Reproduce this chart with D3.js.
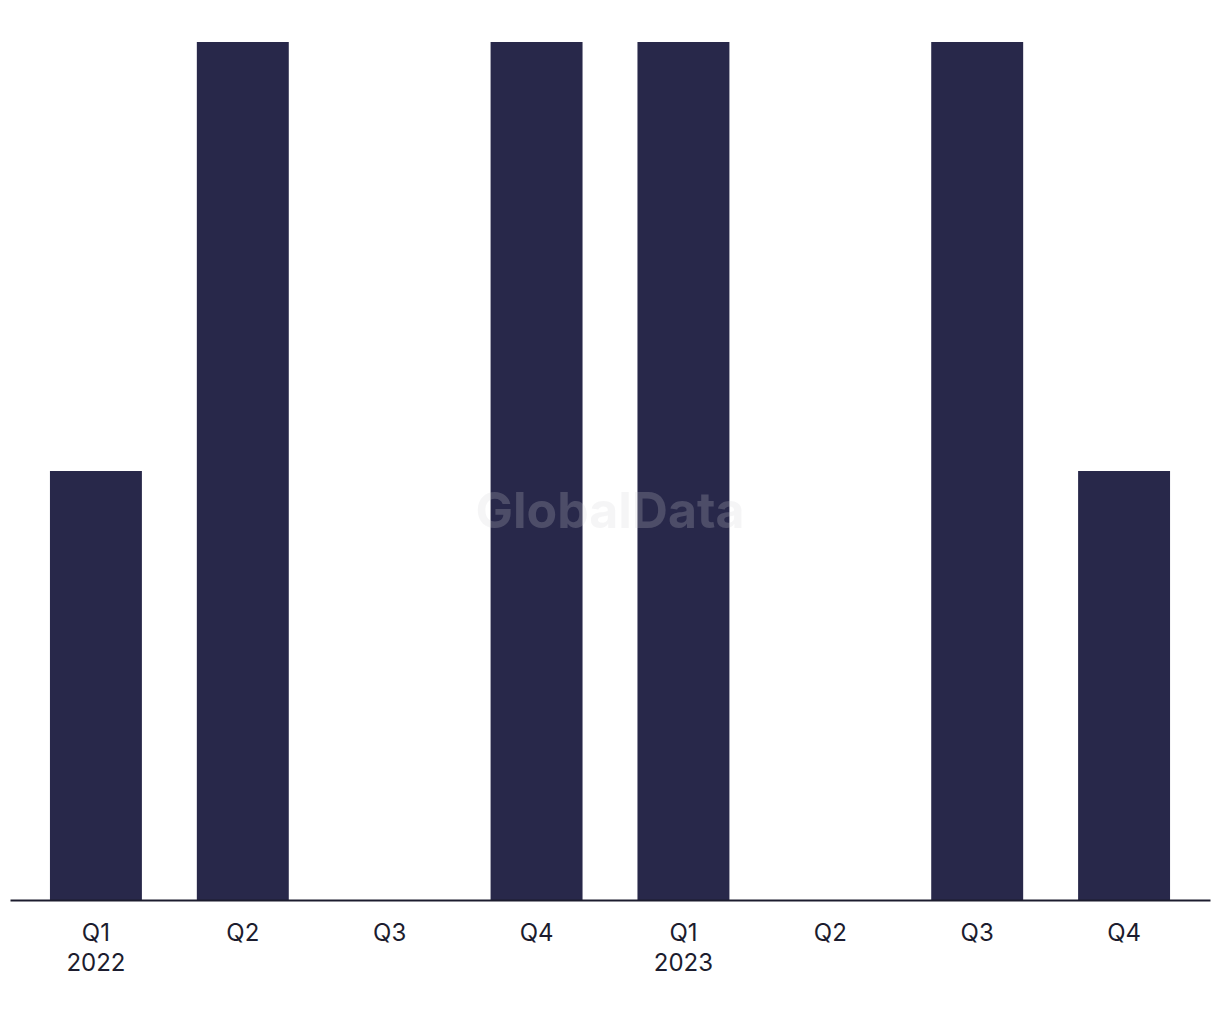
<!DOCTYPE html>
<html>
<head>
<meta charset="utf-8">
<script src="https://cdn.jsdelivr.net/npm/d3@7"></script>
<style>
  body { margin: 0; background: #fff; }
  svg text { font-family: "Inter", "Liberation Sans", sans-serif; }
</style>
</head>
<body>
<div id="chart"></div>
<script>
(function(){
  'use strict';

  var quarters = ['Q1', 'Q2', 'Q3', 'Q4', 'Q1', 'Q2', 'Q3', 'Q4'],
      years = ['2022', '', '', '', '2023', '', '', ''],
      values = [1, 2, 0, 2, 2, 0, 2, 1];

  var w = 1220,
      h = 1020,
      base = 900,
      top = 42,
      barColor = '#28284a';

  var svg = d3.select('#chart').append('svg')
      .attr('width', w)
      .attr('height', h);

  var x = d3.scaleBand()
      .domain(d3.range(values.length))
      .range([10, 1210])
      .paddingInner(0.374)
      .paddingOuter(0.272);

  var y = d3.scaleLinear()
      .domain([0, d3.max(values)])
      .range([base, top]);

  svg.selectAll('.bar')
    .data(values)
    .enter()
    .append('rect')
    .attr('class', 'bar')
    .attr('x', function(d, i) { return x(i); })
    .attr('y', function(d) { return y(d); })
    .attr('width', x.bandwidth())
    .attr('height', function(d) { return y(0) - y(d); })
    .style('fill', barColor);

  // watermark
  svg.append('text')
    .attr('x', 610)
    .attr('y', 528)
    .attr('text-anchor', 'middle')
    .style('font-size', '50px')
    .style('font-weight', 'bold')
    .style('fill', '#d0d0d8')
    .style('fill-opacity', 0.22)
    .text('GlobalData');

  var xAxis = d3.axisBottom(x)
      .tickSize(0)
      .tickFormat(function(i) { return quarters[i]; });

  var gx = svg.append('g')
    .attr('class', 'x axis')
    .attr('transform', 'translate(0,' + base + ')')
    .call(xAxis);

  gx.select('.domain')
    .attr('stroke', '#1c1c2e')
    .attr('stroke-width', 2);

  gx.selectAll('.tick text')
    .attr('y', 0)
    .attr('dy', null)
    .style('font-size', '24px')
    .style('fill', '#1c1c2e')
    .each(function(i) {
      var t = d3.select(this).text(null);
      t.append('tspan').attr('x', 0).attr('y', 41).text(quarters[i]);
      if (years[i]) t.append('tspan').attr('x', 0).attr('y', 71).text(years[i]);
    });

}());
</script>
</body>
</html>
